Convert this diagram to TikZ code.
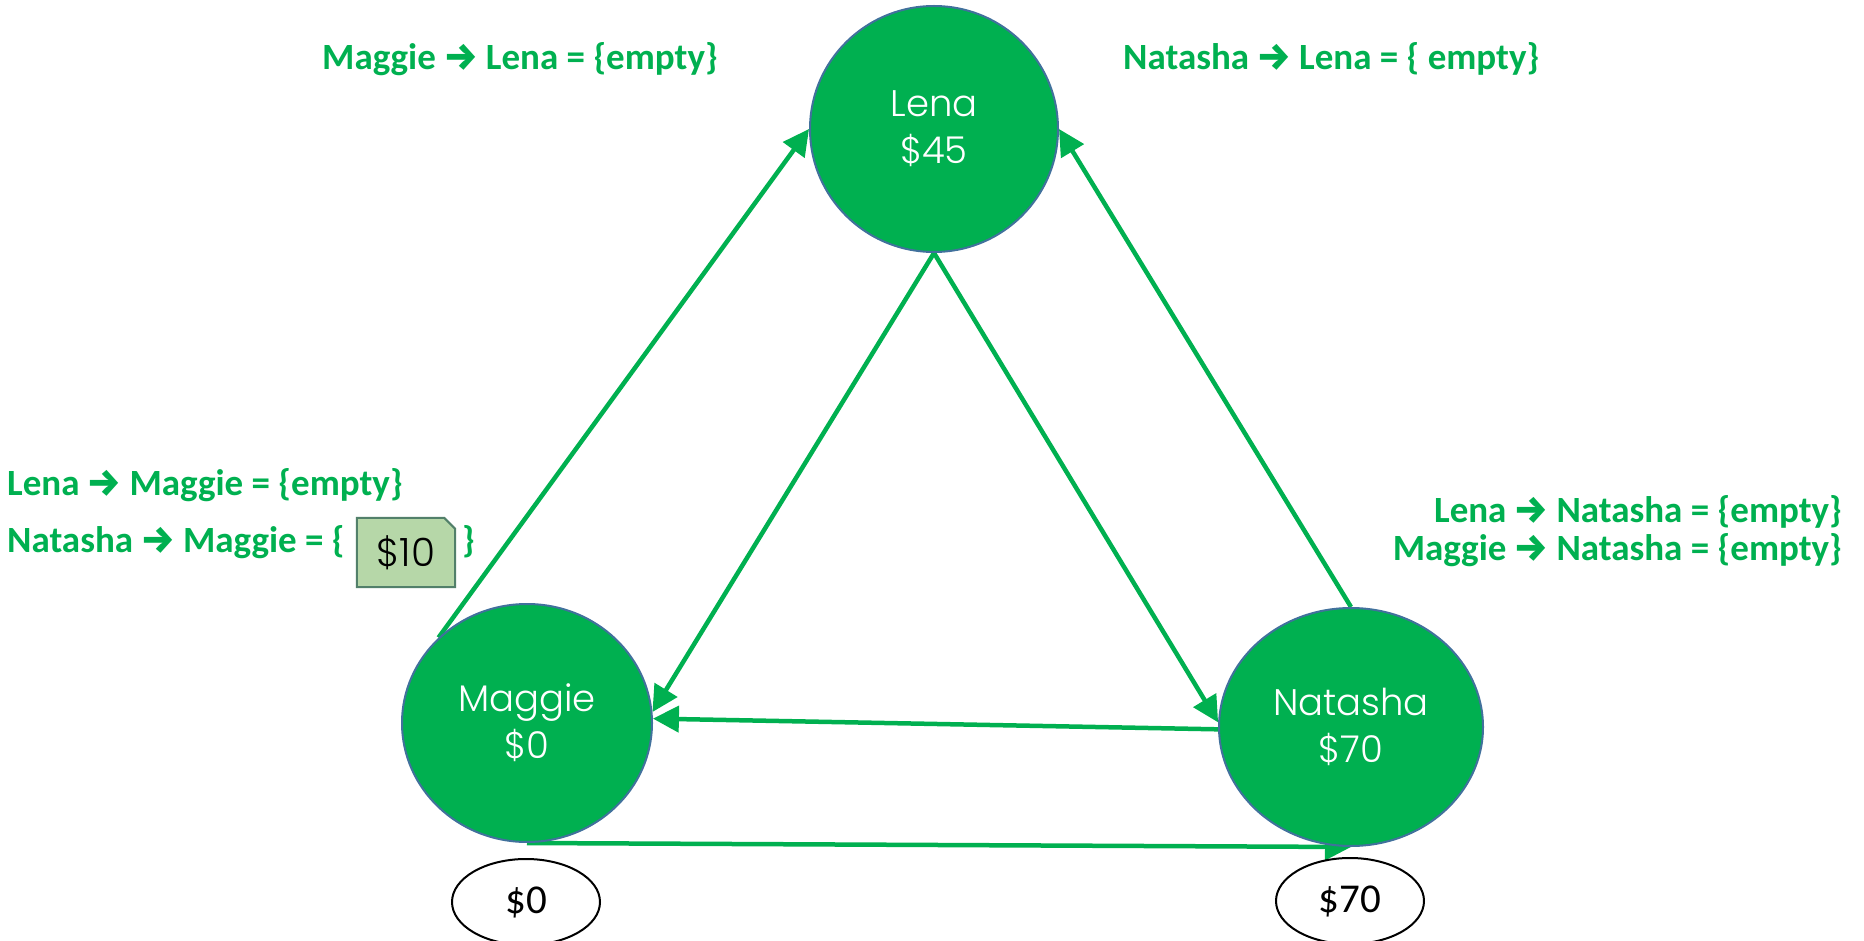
\documentclass[tikz,border=0pt]{standalone}
\usepackage{fontspec}
\setmainfont{Carlito}
\newfontfamily\gothic{Poppins Light}
\newfontfamily\arrowfont{Fira Sans Bold}
\usetikzlibrary{shapes.geometric,arrows.meta}
\definecolor{officegreen}{HTML}{00B050}
\definecolor{rimblue}{HTML}{41719C}
\definecolor{cashfill}{HTML}{B6D7A8}
\definecolor{cashrim}{HTML}{52806A}
\pgfdeclarelayer{background}
\pgfsetlayers{background,main}
\newcommand{\tto}{{\arrowfont →}}

\begin{document}
\begin{tikzpicture}[x=1pt,y=-1pt,
  person/.style={ellipse, fill=officegreen, draw=rimblue, line width=2pt, inner sep=0pt,
    text=white, font=\gothic\fontsize{37}{47}\selectfont, align=center},
  balance/.style={ellipse, draw=black, line width=2pt, inner sep=0pt,
    minimum width=148pt, minimum height=86pt, font=\fontsize{41}{42}\selectfont},
  lbl/.style={text=officegreen, font=\bfseries\fontsize{37}{40}\selectfont, inner sep=0pt},
  cash/.style={minimum width=98pt, minimum height=69pt, inner sep=0pt,
    font=\gothic\fontsize{39}{40}\selectfont},
  flow/.style={draw=officegreen, line width=4.5pt, -{Triangle[length=26pt,width=26pt]}},
]
\useasboundingbox (0,0) rectangle (1864,941);

% people
\node[person, minimum width=248pt, minimum height=246pt] (L) at (934,129) {Lena\\\$45};
\node[person, minimum width=250pt, minimum height=238pt] (M) at (527,723) {Maggie\\\$0};
\node[person, minimum width=264pt, minimum height=238pt] (N) at (1351,727) {Natasha\\\$70};

% balances
\node[balance] (B0) at (526,902) {\$0};
\node[balance] (B70) at (1350,901) {\$70};

% channel contents
\node[lbl, anchor=base west] (ML) at (322,70) {Maggie \tto{} Lena = \{empty\}};
\node[lbl, anchor=base west] (NL) at (1123,70) {Natasha \tto{} Lena = \{ empty\}};
\node[lbl, anchor=base west] (LM) at (7,495) {Lena \tto{} Maggie = \{empty\}};
\node[lbl, anchor=base west] (NM) at (7,552) {Natasha \tto{} Maggie = \{};
\node[cash] (C) at (406,552.5) {\$10};
\node[lbl, anchor=base west] (NMend) at (462,552) {\}};
\node[lbl, anchor=base east] (LN) at (1842,522) {Lena \tto{} Natasha = \{empty\}};
\node[lbl, anchor=base east] (MN) at (1842,560) {Maggie \tto{} Natasha = \{empty\}};

\begin{pgfonlayer}{background}
  % money in transit
  \filldraw[fill=cashfill, draw=cashrim, line width=2pt]
    (C.south west) -- (C.north west) -- ([xshift=-11pt]C.north east)
    -- ([yshift=-11pt]C.north east) -- (C.south east) -- cycle;
  % channels
  \draw[flow] (M.136) -- (L.west);
  \draw[flow] (L.south) -- (M.5);
  \draw[flow] (L.south) -- (N.178);
  \draw[flow] (N.north) -- (L.east);
  \draw[flow] (N.181) -- (M.2);
  \draw[flow] (M.south) -- (N.south);
\end{pgfonlayer}
\end{tikzpicture}
\end{document}
